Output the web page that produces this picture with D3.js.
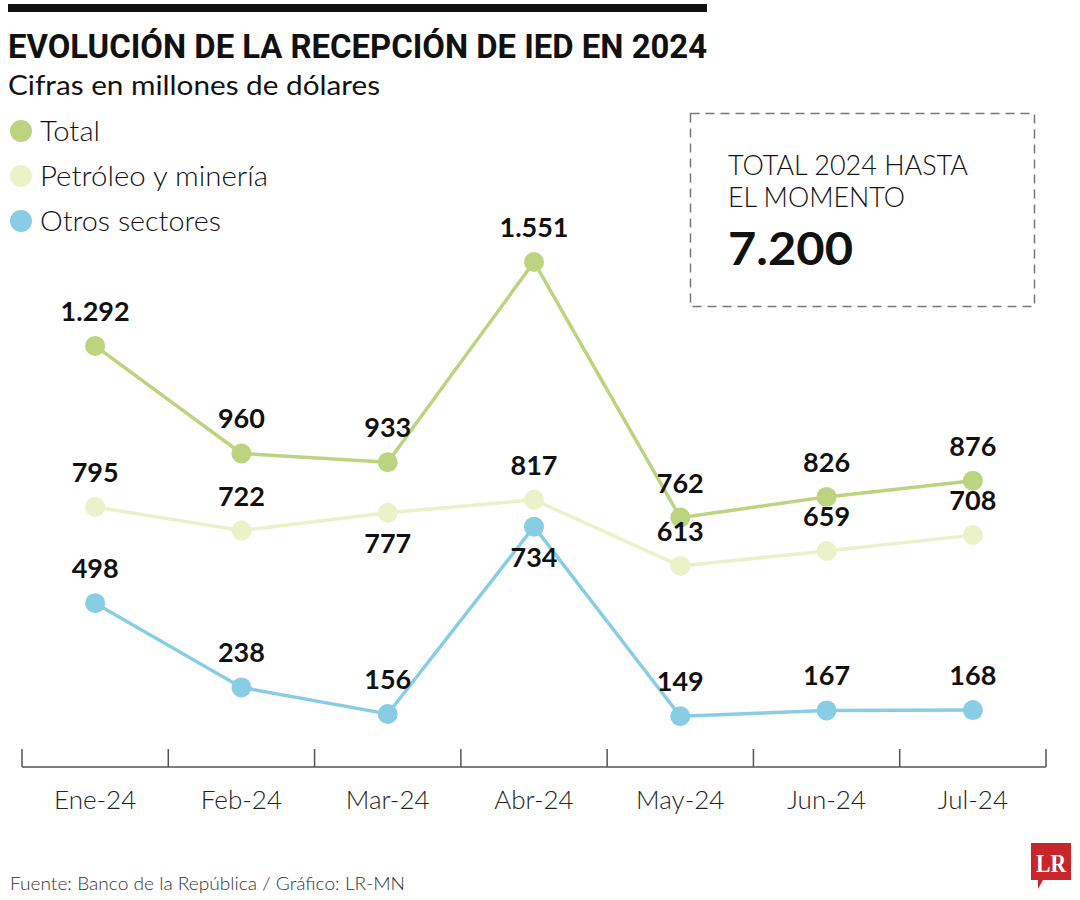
<!DOCTYPE html>
<html><head><meta charset="utf-8">
<script src="https://cdn.jsdelivr.net/npm/d3@7/dist/d3.min.js"></script>
<style>body{margin:0;background:#fff}svg{display:block}</style>
</head><body><svg id="c" width="1080" height="900"></svg>
<script>
const months = ["Ene-24","Feb-24","Mar-24","Abr-24","May-24","Jun-24","Jul-24"];
const total = [1292, 960, 933, 1551, 762, 826, 876];
const petroleo = [795, 722, 777, 817, 613, 659, 708];
const otros = [498, 238, 156, 734, 149, 167, 168];
// label placement: 1 above, -1 below
const petroleoPos = [1,1,-1,1,1,1,1];
const otrosPos = [1,1,1,-1,1,1,1];
const totalPos = [1,1,1,1,1,1,1];
const seriesNames = ["Total","Petróleo y minería","Otros sectores"];
const colors = ["#bcd47f","#ebf1c8","#88cde4"];

const fmt = v => d3.format(",")(v).replace(/,/g,".");
const svg = d3.select("#c");
const FONT = "Lato, 'Open Sans', sans-serif";

// top bar + titles
svg.append("rect").attr("x",8).attr("y",4).attr("width",699).attr("height",8).attr("fill","#111");
svg.append("text").attr("x",8).attr("y",58).text("EVOLUCIÓN DE LA RECEPCIÓN DE IED EN 2024")
  .attr("font-family","'Liberation Sans Narrow', 'Roboto', sans-serif").attr("font-weight",700)
  .attr("font-size",34).attr("fill","#111").attr("textLength",699).attr("lengthAdjust","spacingAndGlyphs");
svg.append("text").attr("x",8).attr("y",95).text("Cifras en millones de dólares")
  .attr("font-family",FONT).attr("font-weight",400).attr("font-size",27).attr("fill","#111")
  .attr("textLength",372).attr("lengthAdjust","spacingAndGlyphs");

// legend
const legY = [131,176,221];
const legW = [60,228,181];
seriesNames.forEach((n,i)=>{
  svg.append("circle").attr("cx",21).attr("cy",legY[i]).attr("r",11).attr("fill",colors[i]);
  svg.append("text").attr("x",40).attr("y",legY[i]+10).text(n).attr("font-family",FONT).attr("font-weight",300)
    .attr("font-size",27).attr("fill","#111").attr("textLength",legW[i]).attr("lengthAdjust","spacingAndGlyphs");
});

// box
svg.append("rect").attr("x",690.5).attr("y",113.5).attr("width",344).attr("height",193)
  .attr("fill","none").attr("stroke","#777").attr("stroke-width",1.5).attr("stroke-dasharray","9,6");
svg.append("text").attr("x",728).attr("y",175).text("TOTAL 2024 HASTA").attr("font-family",FONT).attr("font-weight",300)
  .attr("font-size",28).attr("fill","#111").attr("textLength",240).attr("lengthAdjust","spacingAndGlyphs");
svg.append("text").attr("x",728).attr("y",207).text("EL MOMENTO").attr("font-family",FONT).attr("font-weight",300)
  .attr("font-size",28).attr("fill","#111").attr("textLength",177).attr("lengthAdjust","spacingAndGlyphs");
svg.append("text").attr("x",728).attr("y",265).text("7.200").attr("font-family",FONT).attr("font-weight",700)
  .attr("font-size",46).attr("fill","#111").attr("textLength",125).attr("lengthAdjust","spacingAndGlyphs");

// scales
const x = d3.scaleBand().domain(months).range([22,1046]).padding(0);
const y = d3.scaleLinear().domain([0,1551]).range([764.5,262]);

// axis
const gAxis = svg.append("g").attr("transform","translate(0,767)");
gAxis.append("line").attr("x1",22).attr("x2",1046).attr("stroke","#555").attr("stroke-width",1.5);
const bounds = months.map(m=>x(m)).concat([x(months[months.length-1])+x.bandwidth()]);
gAxis.selectAll("line.tk").data(bounds).join("line").attr("class","tk")
  .attr("x1",d=>d).attr("x2",d=>d).attr("y1",-18).attr("y2",0).attr("stroke","#555").attr("stroke-width",1.5);
gAxis.selectAll("text.lab").data(months).join("text").attr("class","lab")
  .attr("x",d=>x(d)+x.bandwidth()/2).attr("y",42).attr("text-anchor","middle").text(d=>d)
  .attr("font-family",FONT).attr("font-weight",300).attr("font-size",26).attr("fill","#222");

const cx = m => x(m)+x.bandwidth()/2;
const series = [
  {vals:petroleo,pos:petroleoPos,c:colors[1]},
  {vals:otros,pos:otrosPos,c:colors[2]},
  {vals:total,pos:totalPos,c:colors[0]}
];
const line = d3.line().x((d,i)=>cx(months[i])).y(d=>y(d));
series.forEach(s=>{
  svg.append("path").datum(s.vals).attr("d",line).attr("fill","none").attr("stroke",s.c).attr("stroke-width",3.5);
});
series.forEach(s=>{
  svg.append("g").selectAll("circle").data(s.vals).join("circle")
    .attr("cx",(d,i)=>cx(months[i])).attr("cy",d=>y(d)).attr("r",10).attr("fill",s.c);
});
series.forEach(s=>{
  svg.append("g").selectAll("text").data(s.vals).join("text")
    .attr("x",(d,i)=>cx(months[i])).attr("y",(d,i)=> s.pos[i]>0 ? y(d)-25 : y(d)+40)
    .attr("text-anchor","middle").text(d=>fmt(d))
    .attr("font-family",FONT).attr("font-weight",700).attr("font-size",27).attr("fill","#111");
});

// footer
svg.append("text").attr("x",10).attr("y",890).text("Fuente: Banco de la República / Gráfico: LR-MN")
  .attr("font-family",FONT).attr("font-weight",300).attr("font-size",17).attr("fill","#333")
  .attr("textLength",395).attr("lengthAdjust","spacingAndGlyphs");
// LR logo
svg.append("path").attr("d","M1031,843 H1071 V880 H1043 L1038,889 V880 H1031 Z").attr("fill","#c8262b");
svg.append("text").attr("x",1051).attr("y",872).attr("text-anchor","middle").text("LR")
  .attr("font-family","'Liberation Serif', serif").attr("font-weight",700).attr("font-size",25).attr("fill","#fff")
  .attr("textLength",30).attr("lengthAdjust","spacingAndGlyphs");
</script></body></html>
